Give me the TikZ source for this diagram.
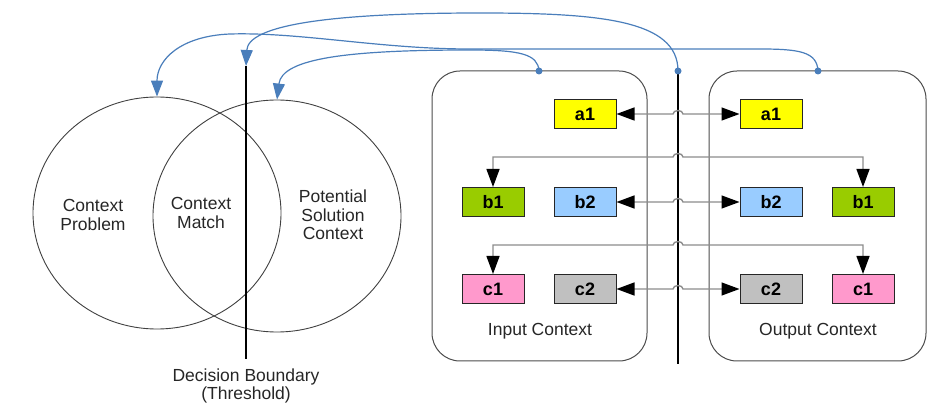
\documentclass[tikz,border=0pt]{standalone}
\usepackage{fontspec}
\setmainfont{Liberation Sans}
\usetikzlibrary{arrows.meta,shapes.geometric}
\definecolor{bl}{HTML}{4A7EBB}
\definecolor{cyel}{HTML}{FFFF00}
\definecolor{cgrn}{HTML}{99CC00}
\definecolor{cblu}{HTML}{99CCFF}
\definecolor{cpnk}{HTML}{FF99CC}
\definecolor{cgry}{HTML}{C0C0C0}
\begin{document}
\begin{tikzpicture}[x=1pt,y=-1pt,
  venn/.style={draw=black!75, line width=0.9pt, ellipse, minimum width=248pt, minimum height=232pt, inner sep=0pt},
  lbl/.style={font=\fontsize{17.5}{18.5}\selectfont, align=center, text=black!85},
  ctx/.style={draw=black!70, line width=1pt, rounded corners=28pt, minimum width=215pt, minimum height=290pt, inner sep=0pt},
  cbox/.style={draw=black!85, line width=1pt, minimum width=62pt, minimum height=29pt, inner sep=0pt, font=\bfseries\fontsize{18}{18}\selectfont},
  conn/.style={draw=black!45, line width=1.4pt, {Triangle[length=18pt,width=13pt,color=black]}-{Triangle[length=18pt,width=13pt,color=black]}},
  dline/.style={draw=black, line width=2.6pt},
  bcurve/.style={draw=bl, line width=1.2pt, -{Triangle[length=16pt,width=12pt]}},
  bdot/.style={circle, fill=bl, inner sep=0pt, minimum size=7pt}
]
\useasboundingbox (0,0) rectangle (950,411);

% Venn
\node[venn] (cp) at (157,213) {};
\node[venn] (cs) at (277,216) {};
\node[lbl] (tp) at (93,215) {Context\\Problem};
\node[lbl] (tm) at (201,213) {Context\\Match};
\node[lbl] (ts) at (333,215) {Potential\\Solution\\Context};

% decision boundary
\coordinate (dtop) at (246,66);
\coordinate (dbot) at (246,359);
\draw[dline] (dtop) -- (dbot);
\node[lbl] (db) at (246,386) {Decision Boundary\\(Threshold)};

% context boxes
\node[ctx] (ic) at (539.5,216) {};
\node[ctx, minimum width=217pt] (oc) at (817.5,216) {};
\node[lbl] (icl) at (540,331) {Input Context};
\node[lbl] (ocl) at (818,331) {Output Context};

% right boundary line
\coordinate (rtop) at (678,71);
\coordinate (rbot) at (678,364);
\draw[dline] (rtop) -- (rbot);

% boxes
\node[cbox, fill=cyel] (a1L) at (585,114) {a1};
\node[cbox, fill=cgrn] (b1L) at (493,202) {b1};
\node[cbox, fill=cblu] (b2L) at (585,202) {b2};
\node[cbox, fill=cpnk] (c1L) at (493,289) {c1};
\node[cbox, fill=cgry] (c2L) at (585,289) {c2};
\node[cbox, fill=cyel] (a1R) at (771,114) {a1};
\node[cbox, fill=cblu] (b2R) at (771,202) {b2};
\node[cbox, fill=cgrn] (b1R) at (863,202) {b1};
\node[cbox, fill=cgry] (c2R) at (771,289) {c2};
\node[cbox, fill=cpnk] (c1R) at (863,289) {c1};

% hop points
\coordinate (ha) at (673,114);
\coordinate (hb2) at (673,202);
\coordinate (hc2) at (673,289);
\coordinate (hb) at (673,157);
\coordinate (hc) at (673,245);

% horizontal connectors
\draw[conn] (a1L.east) -- (ha) arc[start angle=180,end angle=0,x radius=5pt,y radius=3.5pt] -- (a1R.west);
\draw[conn] (b2L.east) -- (hb2) arc[start angle=180,end angle=0,x radius=5pt,y radius=3.5pt] -- (b2R.west);
\draw[conn] (c2L.east) -- (hc2) arc[start angle=180,end angle=0,x radius=5pt,y radius=3.5pt] -- (c2R.west);
\draw[conn] (b1L.north) |- (hb) arc[start angle=180,end angle=0,x radius=5pt,y radius=3.5pt] -| (b1R.north);
\draw[conn] (c1L.north) |- (hc) arc[start angle=180,end angle=0,x radius=5pt,y radius=3.5pt] -| (c1R.north);

% blue curves
\node[bdot] (dI) at (539,71) {};
\node[bdot] (dM) at (678,71) {};
\node[bdot] (dO) at (818,71) {};
\draw[bcurve] (dO.center) .. controls (817,52) and (800,49) .. (760,49) -- (470,49) .. controls (380,49) and (300,32) .. (230,34) .. controls (180,36) and (157,60) .. (cp.north);
\draw[bcurve] (dM.center) .. controls (678,20) and (600,13) .. (480,13) .. controls (330,13) and (248,25) .. (dtop);
\draw[bcurve] (dI.center) .. controls (538,54) and (520,50) .. (470,50) .. controls (350,50) and (282,58) .. (cs.north);
\end{tikzpicture}
\end{document}
